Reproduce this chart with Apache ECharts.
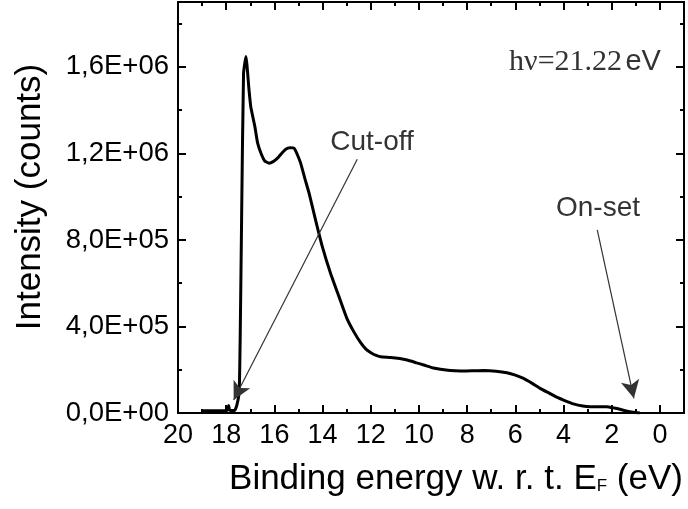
<!DOCTYPE html>
<html>
<head>
<meta charset="utf-8">
<script src="https://cdn.jsdelivr.net/npm/echarts@6/dist/echarts.min.js"></script>
<style>
  html, body { margin: 0; padding: 0; background: #fff; }
  #chart { width: 688px; height: 509px; }
</style>
</head>
<body>
<div id="chart"></div>
<script>
// binding energy (eV) and intensity (counts)
const energy = [
  19.0, 18.6, 18.2, 17.95, 17.9, 17.85, 17.65, 17.55, 17.46, 17.42, 17.36, 17.28, 17.18, 17.05,
  16.98, 16.81, 16.7, 16.56, 16.4, 16.22, 16.05, 15.87, 15.7, 15.53, 15.35, 15.18, 15.05, 14.91,
  14.75, 14.56, 14.29, 14.01, 13.67, 13.32, 13.0, 12.7, 12.42, 12.2, 12.01, 11.8, 11.59, 11.18,
  10.8, 10.49, 10.1, 9.8, 9.4, 9.11, 8.7, 8.28, 7.8, 7.32, 6.8, 6.35, 6.0, 5.66, 5.3, 4.97,
  4.6, 4.28, 3.9, 3.59, 3.2, 2.9, 2.5, 2.21, 1.9, 1.66, 1.4, 1.11, 0.83
]
const intensity = [
  10000, 10000, 10000, 12000, 35000, 12000, 12000, 40000, 100000, 340000, 900000, 1570000, 1648000, 1490000,
  1416000, 1324000, 1250000, 1202000, 1165000, 1155000, 1162000, 1178000, 1200000, 1219000, 1226000, 1224000, 1195000, 1155000,
  1090000, 1016000, 892000, 769000, 646000, 538000, 440000, 375000, 325000, 295000, 280000, 267000, 260000, 257000,
  252000, 245000, 232000, 222000, 208000, 202000, 196000, 194000, 195000, 196000, 193000, 186000, 175000, 160000, 137000, 114000,
  92000, 73000, 55000, 42000, 32000, 29000, 29000, 29000, 23000, 17000, 9000, 3000, 0
]

const xMajorTicks = [0, 2, 4, 6, 8, 10, 12, 14, 16, 18, 20]
const xMinorTicks = [1, 3, 5, 7, 9, 11, 13, 15, 17, 19]
const yMajorTicks = [0, 400000, 800000, 1200000, 1600000]
const yMinorTicks = [200000, 600000, 1000000, 1400000, 1800000]

// arrows: [from, to] in data coords
const cutoffArrow = [[12.56, 1173000], [17.69, 60000]]
const onsetArrow = [[2.6, 846000], [1.08, 68000]]

const seriesData = energy.map((e, i) => [e, intensity[i]])

const fontSans = 'Liberation Sans, Arial, sans-serif'

function sci (v) {
  // 1.2e+6 -> 1,2E+06
  const s = v.toExponential(1)
  const [m, e] = s.split('e')
  const sign = e[0] === '-' ? '-' : '+'
  const exp = Math.abs(parseInt(e, 10)).toString().padStart(2, '0')
  return `${m.replace('.', ',')}E${sign}${exp}`
}

const axisLine = { show: true, onZero: false, lineStyle: { color: '#000', width: 2 } }

function xAx (pos, ticks, len, labels) {
  return {
    type: 'value',
    position: pos,
    inverse: true,
    min: -1,
    max: 20,
    axisLine: axisLine,
    splitLine: { show: false },
    axisTick: { show: true, inside: true, length: len, customValues: ticks, lineStyle: { color: '#000', width: 2 } },
    axisLabel: labels
      ? { show: true, customValues: ticks, margin: 9, color: '#000', fontSize: 27, fontFamily: fontSans }
      : { show: false },
  }
}

function yAx (pos, ticks, len, labels) {
  return {
    type: 'value',
    position: pos,
    min: 0,
    max: 1900000,
    axisLine: axisLine,
    splitLine: { show: false },
    axisTick: { show: true, inside: true, length: len, customValues: ticks, lineStyle: { color: '#000', width: 2 } },
    axisLabel: labels
      ? { show: true, customValues: ticks, margin: 9, color: '#000', fontSize: 27.5, fontFamily: fontSans, formatter: sci }
      : { show: false },
  }
}

const arrowLine = (a) => [{ coord: a[0] }, { coord: a[1] }]

const chart = echarts.init(document.getElementById('chart'))
chart.setOption({
  animation: false,
  grid: { left: 178, right: 4, top: 2, bottom: 96 },
  xAxis: [
    xAx('bottom', xMajorTicks, 8, true),
    xAx('bottom', xMinorTicks, 4, false),
    xAx('top', xMajorTicks, 8, false),
    xAx('top', xMinorTicks, 4, false),
  ],
  yAxis: [
    yAx('left', yMajorTicks, 8, true),
    yAx('left', yMinorTicks, 4, false),
    yAx('right', yMajorTicks, 8, false),
    yAx('right', yMinorTicks, 4, false),
  ],
  series: [
    {
      type: 'line',
      data: seriesData,
      showSymbol: false,
      smooth: 0.15,
      lineStyle: { color: '#000', width: 3 },
      markLine: {
        silent: true,
        symbol: ['none', 'arrow'],
        symbolSize: [14, 18],
        label: { show: false },
        lineStyle: { color: '#333', width: 1.2, type: 'solid' },
        data: [arrowLine(cutoffArrow), arrowLine(onsetArrow)],
      },
    },
  ],
  graphic: [
    {
      type: 'text',
      style: { x: 372, y: 142, text: 'Cut-off', fill: '#333', font: `28px ${fontSans}`, textAlign: 'center', textVerticalAlign: 'middle' },
    },
    {
      type: 'text',
      style: { x: 598, y: 208, text: 'On-set', fill: '#333', font: `28px ${fontSans}`, textAlign: 'center', textVerticalAlign: 'middle' },
    },
    {
      type: 'text',
      style: {
        x: 585, y: 62,
        text: '{a|hν=21.22} {b|eV}',
        textAlign: 'center', textVerticalAlign: 'middle',
        rich: {
          a: { fontFamily: 'Liberation Serif, Times New Roman, serif', fontSize: 30, fill: '#333' },
          b: { fontFamily: fontSans, fontSize: 29, fill: '#333' },
        },
      },
    },
    {
      type: 'text',
      style: {
        x: 456, y: 479,
        text: 'Binding energy w. r. t. E{s|F} (eV)',
        fill: '#000', font: `35px ${fontSans}`, textAlign: 'center', textVerticalAlign: 'middle',
        rich: {
          s: { fontFamily: fontSans, fontSize: 17, fill: '#000', padding: [15, 0, 0, 0] },
        },
      },
    },
    {
      type: 'text',
      rotation: Math.PI / 2,
      x: 30,
      y: 197,
      style: { x: 0, y: 0, text: 'Intensity (counts)', fill: '#000', font: `35px ${fontSans}`, textAlign: 'center', textVerticalAlign: 'middle' },
    },
  ],
})
</script>
</body>
</html>
